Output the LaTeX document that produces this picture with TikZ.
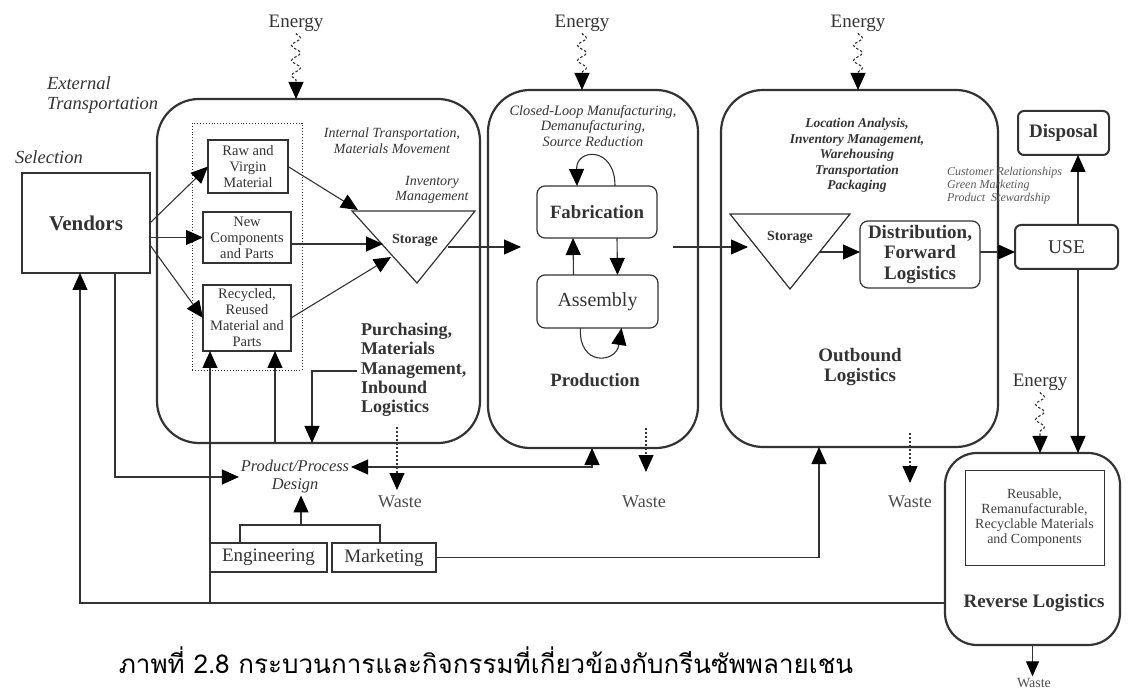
\documentclass[tikz,border=0pt]{standalone}
\usepackage{fontspec}
\setmainfont{Liberation Serif}
\newfontfamily\thaifont[Script=Thai]{Loma}
\usetikzlibrary{arrows.meta,decorations.pathmorphing}
\newcommand\sz[2]{\fontsize{#1pt}{#2pt}\selectfont}

\begin{document}
\begin{tikzpicture}[x=1pt,y=-1pt,inner sep=2pt,outer sep=0pt,color=black!80,line width=1.1pt,
  >={Triangle[length=17pt,width=15pt,color=black]},
  bigbox/.style={draw,line width=2.2pt,rounded corners=42pt},
  smallbox/.style={draw,line width=1.2pt,align=center,inner sep=0pt},
  rbox/.style={smallbox,rounded corners=8pt},
  energy/.style={->,dash pattern=on 2.5pt off 2pt,decorate,
    decoration={snake,amplitude=4.5pt,segment length=15pt,post length=17pt}},
  waste/.style={->,dash pattern=on 2pt off 2pt}]

\useasboundingbox (0,0) rectangle (1130,692);

\node[font=\sz{19}{21}](e1) at (296,23) {Energy};
\node[font=\sz{19}{21}](e2) at (582,23) {Energy};
\node[font=\sz{19}{21}](e3) at (858,23) {Energy};
\node[font=\sz{19}{21}](e4) at (1040,382) {Energy};

\node[bigbox,minimum width=323pt,minimum height=344pt](pur) at (318.5,271) {};
\node[bigbox,minimum width=210pt,minimum height=358pt](prod) at (593,269) {};
\node[bigbox,minimum width=277pt,minimum height=357pt](outb) at (859.5,268.5) {};
\node[bigbox,rounded corners=32pt,minimum width=175pt,minimum height=192pt](rev) at (1032.5,549) {};

\draw[energy] (e1.south) -- (e1.south |- pur.north);
\draw[energy] (e2.south) -- (e2.south |- prod.north);
\draw[energy] (e3.south) -- (e3.south |- outb.north);
\draw[energy] (e4.south) -- (e4.south |- rev.north);

% suppliers
\node[smallbox,minimum width=128pt,minimum height=100pt,font=\sz{21}{23}\bfseries](vend) at (86,223) {Vendors};
\node[anchor=west,font=\sz{18.5}{20}\itshape](sel) at (13,157) {Selection};
\node[anchor=west,align=left,font=\sz{18.5}{20}\itshape](ext) at (45,95) {External\\Transportation};

\node[draw,dotted,line width=0.9pt,minimum width=110pt,minimum height=247pt](dot) at (247,246.5) {};
\node[smallbox,minimum width=80pt,minimum height=53pt,font=\sz{14.5}{16}](raw) at (248,166.5) {Raw and\\Virgin\\Material};
\node[smallbox,minimum width=88pt,minimum height=51pt,font=\sz{14.5}{16}](new) at (247,237.5) {New\\Components\\and Parts};
\node[smallbox,minimum width=88pt,minimum height=66pt,font=\sz{14.5}{16}](rec) at (247,318) {Recycled,\\Reused\\Material and\\Parts};

\draw[->] (vend.east) -- (raw.west);
\draw[->] (vend.east |- new.west) -- (new.west);
\draw[->] ([yshift=-22pt]vend.east) -- (rec.west);

% storage, inbound
\draw[line width=1.2pt] (352,211) -- (475,211) -- (417,283) -- cycle;
\node[font=\sz{14}{16}\bfseries](st1) at (415,240) {Storage};
\node[align=center,font=\sz{14}{16}\itshape](itr) at (392,141) {Internal Transportation,\\Materials Movement};
\node[align=center,font=\sz{14}{15.5}\itshape](inv) at (432,190) {Inventory\\Management};
\coordinate(s1a) at (358,210);
\coordinate(s1b) at (383,244);
\coordinate(s1c) at (391,257);
\draw[->] (raw.east) -- (s1a);
\draw[->] (new.east |- s1b) -- (s1b);
\draw[->] (rec.east) -- (s1c);

\node[anchor=west,align=left,font=\sz{18}{19.3}\bfseries](purl) at (359,370) {Purchasing,\\Materials\\Management,\\Inbound\\Logistics};
\coordinate(pm) at (357,371);
\coordinate(pd) at (312,443);
\draw[->] (pm) -| (pd);

% production
\coordinate(s1o) at (448,247);
\coordinate(p1) at (521,247);
\draw[->] (s1o) -- (p1);
\node[align=center,font=\sz{14.3}{15.5}\itshape](clm) at (593,126) {Closed-Loop Manufacturing,\\Demanufacturing,\\Source Reduction};
\node[rbox,minimum width=120pt,minimum height=52pt,font=\sz{18.8}{20}\bfseries](fab) at (597,212) {Fabrication};
\node[rbox,minimum width=121pt,minimum height=53pt,font=\sz{20}{22}](asm) at (597.5,301.5) {Assembly};
\node[font=\sz{18.8}{20}\bfseries](prl) at (595,380) {Production};
\draw[->] ([xshift=-24pt]asm.north) -- ([xshift=-24pt]fab.south);
\draw[->] ([xshift=20pt]fab.south) -- ([xshift=20pt]asm.north);
\draw[->] ([xshift=18pt]fab.north) .. controls (615,146) and (576,148) .. ([xshift=-20pt]fab.north);
\draw[->] ([xshift=-17pt]asm.south) .. controls (578,366) and (616,364) .. ([xshift=24pt]asm.south);

% outbound
\coordinate(p2) at (673,247);
\coordinate(o1) at (748,247);
\draw[->] (p2) -- (o1);
\draw[line width=1.2pt] (730,214) -- (850,214) -- (790,289) -- cycle;
\node[font=\sz{14}{16}\bfseries](st2) at (790,237) {Storage};
\node[rbox,minimum width=120pt,minimum height=67pt,font=\sz{19}{20.5}\bfseries](dist) at (920,254.5) {Distribution,\\Forward\\Logistics};
\coordinate(o2) at (820,252);
\draw[->] (o2) -- (dist.west |- o2);
\node[align=center,font=\sz{13.5}{15.6}\bfseries\itshape](loc) at (857,155.5) {Location Analysis,\\Inventory Management,\\Warehousing\\Transportation\\Packaging};
\node[align=center,font=\sz{19}{20.5}\bfseries](outl) at (860,367) {Outbound\\Logistics};

% use and disposal
\node[smallbox,rounded corners=6pt,line width=2pt,minimum width=103pt,minimum height=44pt,font=\sz{19.5}{21}](use) at (1066.5,247) {USE};
\node[smallbox,rounded corners=6pt,line width=2pt,minimum width=91pt,minimum height=44pt,font=\sz{19}{21}\bfseries](disp) at (1063.5,133) {Disposal};
\node[anchor=west,align=left,font=\sz{12}{13}\itshape,text=black!65](cust) at (945,186) {Customer Relationships\\Green Marketing\\Product\ \ Stewardship};
\draw[->] (dist.east |- o2) -- (use.west |- o2);
\coordinate(uc) at (1078,247);
\draw[->] (use.north -| uc) -- (disp.south -| uc);
\draw[->] (use.south -| uc) -- (rev.north -| uc);

% reverse logistics
\node[draw,line width=1pt,minimum width=139pt,minimum height=95pt,align=center,font=\sz{14}{15},text=black!75](rin) at (1034.5,517.5) {Reusable,\\Remanufacturable,\\Recyclable Materials\\and Components};
\node[font=\sz{19}{21}\bfseries](revl) at (1034,603) {Reverse Logistics};
\node[font=\sz{14}{16},text=black!70](w4) at (1034,683) {Waste};
\draw[-{Triangle[length=15pt,width=13pt,color=black]}] (rev.south) -- (w4.north -| rev.south);

% waste
\node[font=\sz{18}{20},text=black!70](w1) at (400,502) {Waste};
\node[font=\sz{18}{20},text=black!70](w2) at (644,502) {Waste};
\node[font=\sz{18}{20},text=black!70](w3) at (910,502) {Waste};
\coordinate(w1a) at (397,427);
\coordinate(w1b) at (397,490);
\coordinate(w2a) at (646,428);
\coordinate(w2b) at (646,472);
\coordinate(w3a) at (910,433);
\coordinate(w3b) at (910,483);
\draw[waste] (w1a) -- (w1b);
\draw[waste] (w2a) -- (w2b);
\draw[waste] (w3a) -- (w3b);

% design
\node[align=center,font=\sz{16.4}{18}\itshape](ppd) at (295,477) {Product/Process\\Design};
\node[smallbox,minimum width=117pt,minimum height=29pt,font=\sz{19}{21}](eng) at (268.5,557.5) {Engineering};
\node[smallbox,minimum width=104pt,minimum height=29pt,font=\sz{19}{21}](mkt) at (384,557.5) {Marketing};
\coordinate(j) at (301,525);
\draw ([xshift=-28.5pt]eng.north) |- (j) -| ([xshift=-4pt]mkt.north);
\draw[->] (j) -- (ppd.south -| j);
\draw[->] ([xshift=29pt]vend.south) |- (ppd.west);
\coordinate(pp) at (592,467);
\draw[<->] (ppd.east |- pp) -- (pp) -- (prod.south -| pp);
\coordinate(mo) at (819,447);
\draw[->] (mkt.east) -| (outb.south -| mo);
\coordinate(u2) at (275,443);
\draw[->] (u2) -- (rec.south -| u2);

% feedback
\draw[->] ([yshift=-54pt]rev.west) -| ([xshift=-6pt]vend.south);
\coordinate(fb) at (210,603);
\draw[->] (fb) -- (rec.south -| fb);

\node[font=\thaifont\sz{26}{30},text=black](cap) at (486,660) {ภาพที่ 2.8 กระบวนการและกิจกรรมที่เกี่ยวข้องกับกรีนซัพพลายเชน};

\end{tikzpicture}
\end{document}
